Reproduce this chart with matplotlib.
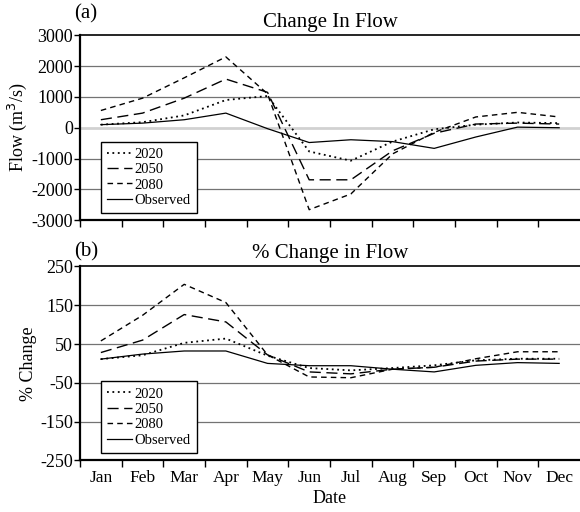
import numpy as np
import matplotlib.pyplot as plt

months = ['Jan', 'Feb', 'Mar', 'Apr', 'May', 'Jun', 'Jul', 'Aug', 'Sep', 'Oct', 'Nov', 'Dec']

# change in flow (m3/s)
flow_2020 = [100, 180, 400, 900, 1030, -770, -1070, -450, -50, 100, 170, 150]
flow_2050 = [260, 475, 960, 1580, 1150, -1690, -1690, -750, -180, 120, 150, 120]
flow_2080 = [560, 960, 1620, 2300, 1100, -2660, -2150, -850, -150, 350, 500, 350]
flow_obs = [100, 150, 260, 475, -30, -480, -390, -450, -670, -300, 20, 0]

# percent change in flow
pct_2020 = [11, 21, 53, 64, 20, -12, -18, -12, -5, 8, 12, 12]
pct_2050 = [28, 60, 126, 107, 22, -22, -27, -15, -10, 6, 11, 11]
pct_2080 = [58, 124, 204, 157, 22, -35, -37, -15, -10, 12, 30, 30]
pct_obs = [11, 24, 32, 32, 0, -6, -6, -15, -22, -5, 2, 0]

labels = ['2020', '2050', '2080', 'Observed']
styles = [dict(linestyle=(0, (1, 2)), lw=1.3),
          dict(linestyle=(0, (8, 4)), lw=1.0),
          dict(linestyle=(0, (4, 3)), lw=1.0),
          dict(linestyle='-', lw=0.9)]

plt.rcParams['font.family'] = ['Liberation Serif', 'DejaVu Serif']
plt.rcParams['axes.unicode_minus'] = False

fig = plt.figure(figsize=(5.8, 5.12), dpi=100)
ax1 = fig.add_axes([0.138, 0.570, 0.862, 0.361])
ax2 = fig.add_axes([0.138, 0.101, 0.862, 0.3785])

x = np.arange(1, 13)


def style_axes(ax, ticks, show_months, zero_light=False):
    ax.set_xlim(0.5, 12.5)
    ax.set_ylim(ticks[0], ticks[-1])
    ax.set_yticks(ticks)
    ax.set_xticks(np.arange(0.5, 12.5, 1))
    ax.set_xticklabels([])
    ax.set_xticks(x, minor=True)
    if show_months:
        ax.set_xticklabels(months, minor=True, fontsize=12.5)
    ax.tick_params(axis='x', which='major', direction='out', length=5, width=1)
    ax.tick_params(axis='x', which='minor', length=0, pad=7)
    ax.tick_params(axis='y', direction='out', length=4, width=1, labelsize=13, pad=1)
    for t in ticks[1:-1]:
        if zero_light and t == 0:
            ax.axhline(t, color='0.82', lw=2.0, zorder=0)
        else:
            ax.axhline(t, color='0.45', lw=0.9, zorder=0)
    ax.spines['right'].set_visible(False)
    ax.spines['left'].set_linewidth(1.6)
    ax.spines['bottom'].set_linewidth(1.6)
    ax.spines['top'].set_linewidth(1.2)


series1 = [flow_2020, flow_2050, flow_2080, flow_obs]
series2 = [pct_2020, pct_2050, pct_2080, pct_obs]

for ax, series in [(ax1, series1), (ax2, series2)]:
    for y, lab, st in zip(series, labels, styles):
        ax.plot(x, y, color='black', label=lab, **st)

style_axes(ax1, [-3000, -2000, -1000, 0, 1000, 2000, 3000], False, zero_light=True)
style_axes(ax2, [-250, -150, -50, 50, 150, 250], True)

ax1.set_ylabel('Flow (m$^3$/s)', fontsize=13, labelpad=2)
ax2.set_ylabel('% Change', fontsize=13, labelpad=2)
ax2.set_xlabel('Date', fontsize=13, labelpad=3)

ax1.set_title('Change In Flow', fontsize=15, pad=6)
ax2.set_title('% Change in Flow', fontsize=15, pad=6)
fig.text(0.128, 0.972, '(a)', fontsize=15, va='center')
fig.text(0.128, 0.508, '(b)', fontsize=15, va='center')

for ax in (ax1, ax2):
    leg = ax.legend(loc='lower left', bbox_to_anchor=(0.042, 0.04), fontsize=10.5,
                    fancybox=False, edgecolor='black', framealpha=1,
                    handlelength=1.7, handletextpad=0.2, labelspacing=0.15,
                    borderpad=0.4, borderaxespad=0)
    leg.get_frame().set_linewidth(1.0)

fig.savefig('out.png', dpi=100)
